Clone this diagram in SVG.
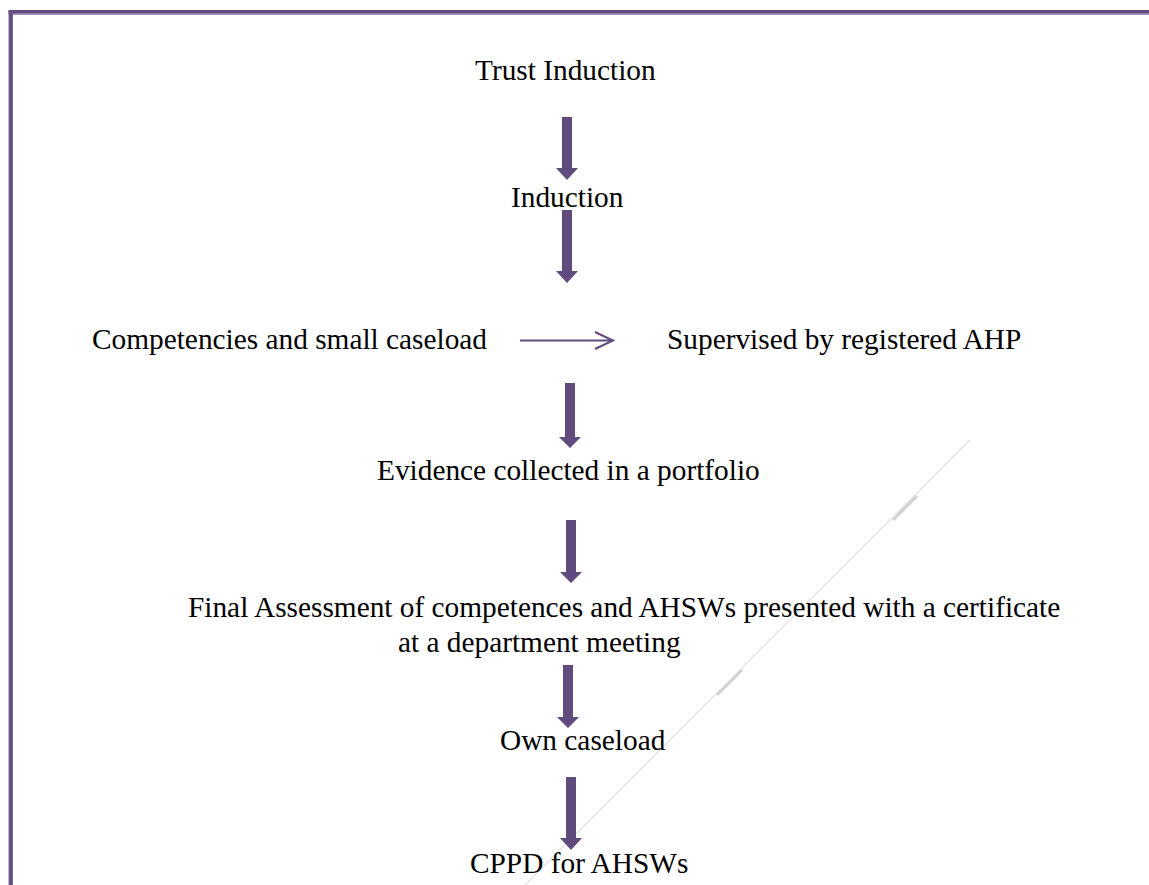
<svg xmlns="http://www.w3.org/2000/svg" width="1149" height="885" viewBox="0 0 1149 885">
<style>
.t{font-family:"Liberation Serif","Times New Roman",serif;font-size:29.33px;fill:#000}
.ar{fill:#5f4b7d}
</style>
<rect width="1149" height="885" fill="#fff"/>
<g id="frame">
<rect x="8" y="10" width="1141" height="5" fill="#a493c0"/>
<rect x="8" y="10" width="1141" height="3.3" fill="#5f4b7d"/>
<rect x="8.3" y="10" width="4.4" height="875" fill="#a493c0"/>
<rect x="9.3" y="10" width="3.4" height="875" fill="#5f4b7d"/>
</g>
<g id="artifact" fill="none">
<line x1="970" y1="440" x2="525" y2="885" stroke="#e2e2e2" stroke-width="1.2"/>
<line x1="917" y1="496" x2="893" y2="520" stroke="#d2d2d2" stroke-width="3"/>
<line x1="742" y1="670" x2="717" y2="695" stroke="#d2d2d2" stroke-width="3"/>
</g>
<g id="connectors">
<polygon class="ar" points="562,117 572,117 572,168 578,168 567,180 556,168 562,168"/>
<polygon class="ar" points="562,210 572,210 572,271 578,271 567,283 556,271 562,271"/>
<polygon class="ar" points="565,383 575,383 575,437 581,437 570,448 559,437 565,437"/>
<polygon class="ar" points="566,520 576,520 576,572 582,572 571,583 560,572 566,572"/>
<polygon class="ar" points="563,665 573,665 573,717 579,717 568,728 557,717 563,717"/>
<polygon class="ar" points="566,777 576,777 576,838 582,838 571,850 560,838 566,838"/>
<g stroke="#5f4b7d" stroke-width="2" fill="none">
<line x1="520" y1="340.5" x2="612" y2="340.5"/>
<polyline points="595,332 613,340.5 595,349"/>
</g>
</g>
<g id="n1"><text class="t" x="475" y="80">Trust Induction</text></g>
<g id="n2"><text class="t" x="511" y="207">Induction</text></g>
<g id="n3"><text class="t" x="92" y="349">Competencies and small caseload</text></g>
<g id="n4"><text class="t" x="667" y="349">Supervised by registered AHP</text></g>
<g id="n5"><text class="t" x="377" y="480">Evidence collected in a portfolio</text></g>
<g id="n6"><text class="t" x="188" y="617">Final Assessment of competences and AHSWs presented with a certificate</text><text class="t" x="398" y="652">at a department meeting</text></g>
<g id="n7"><text class="t" x="500" y="750">Own caseload</text></g>
<g id="n8"><text class="t" x="470" y="873">CPPD for AHSWs</text></g>
</svg>
